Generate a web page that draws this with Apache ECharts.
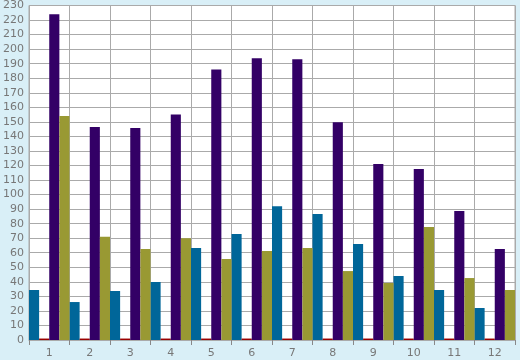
<!DOCTYPE html>
<html><head><meta charset="utf-8">
<script src="https://cdn.jsdelivr.net/npm/echarts@6/dist/echarts.min.js"></script>
<style>html,body{margin:0;padding:0;background:#d9eff7;}#c{width:520px;height:360px;}</style>
</head><body><div id="c"></div>
<script>
const categories = ['1','2','3','4','5','6','7','8','9','10','11','12'];
const blueValues = [34.4, 26.1, 33.7, 39.9, 63.2, 72.9, 92, 86.6, 66, 44, 34.4, 22];
const redValues = [1, 1, 1, 1, 1, 1, 1, 1, 1, 1, 1, 1];
const purpleValues = [224, 146.4, 145.7, 155, 186, 193.8, 193, 149.8, 121, 117.5, 88.7, 62.5];
const oliveValues = [154, 71, 62.5, 70, 55.7, 61.2, 63.2, 47.4, 39.2, 77.7, 42.6, 34.4];

const chart = echarts.init(document.getElementById('c'));
const txt = {color:'#777', fontFamily:'DejaVu Sans', fontSize:11};
function bar(name, data, color){
  return {name, type:'bar', data, barGap:'0%', barCategoryGap:'0%', itemStyle:{color}, animation:false, z:5};
}
chart.setOption({
  backgroundColor:'#d9eff7',
  animation:false,
  grid:{left:26, right:5, top:5, bottom:20, show:true, backgroundColor:'#fff', borderColor:'#aaa', borderWidth:1},
  xAxis:{type:'category', data:categories,
    axisLine:{lineStyle:{color:'#aaa'}},
    axisTick:{show:true, length:5, lineStyle:{color:'#888'}},
    splitLine:{show:true, lineStyle:{color:'#aaa', width:1}},
    axisLabel:Object.assign({margin:8}, txt)},
  yAxis:{type:'value', min:0, max:230, interval:10,
    axisLine:{show:true, lineStyle:{color:'#aaa'}},
    axisTick:{show:false},
    splitLine:{lineStyle:{color:'#aaa', width:1}},
    axisLabel:Object.assign({margin:5}, txt)},
  series:[
    bar('blue', blueValues, '#006699'),
    bar('red', redValues, '#990000'),
    bar('purple', purpleValues, '#330066'),
    bar('olive', oliveValues, '#999933')
  ]
});
</script></body></html>
